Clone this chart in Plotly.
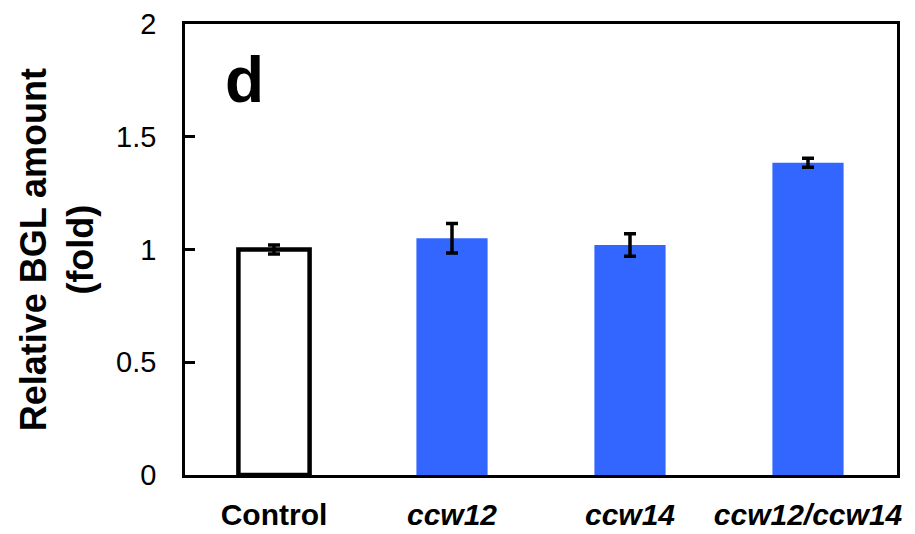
import plotly.graph_objects as go

categories = ["Control", "ccw12", "ccw14", "ccw12/ccw14"]
tick_labels = ["<b>Control</b>", "<b><i>ccw12</i></b>", "<b><i>ccw14</i></b>", "<b><i>ccw12/ccw14</i></b>"]
values = [1.0, 1.05, 1.02, 1.385]
errors = [0.02, 0.065, 0.05, 0.02]
fill_colors = ["white", "#3366FF", "#3366FF", "#3366FF"]
line_colors = ["black", "#3366FF", "#3366FF", "#3366FF"]
line_widths = [4.5, 0, 0, 0]

fig = go.Figure()
fig.add_trace(go.Bar(
    x=categories, y=values, width=0.4,
    marker=dict(color=fill_colors, line=dict(color=line_colors, width=line_widths)),
    error_y=dict(type="data", array=errors, color="black", thickness=3.5, width=6),
))

fig.add_annotation(x=0.083, y=0.876, xref="paper", yref="paper", text="<b>d</b>",
                   xanchor="center", yanchor="middle",
                   showarrow=False, font=dict(size=64, family="Liberation Sans", color="black"))

fig.add_annotation(x=-0.18, y=0.5, xref="paper", yref="paper",
                   text="<b>Relative BGL amount<br>(fold)</b>", textangle=-90,
                   xanchor="center", yanchor="middle",
                   showarrow=False, font=dict(size=36, family="Liberation Sans", color="black"))

fig.update_layout(
    width=915, height=534,
    margin=dict(l=185, r=18, t=24, b=59),
    plot_bgcolor="white", paper_bgcolor="white",
    showlegend=False,
    font=dict(family="Liberation Sans", color="black"),
    xaxis=dict(
        range=[-0.5, 3.5], tickmode="array", tickvals=categories, ticktext=tick_labels,
        tickfont=dict(size=30), showline=True, linecolor="black", linewidth=2.5, mirror=True,
        ticks="", showgrid=False, ticklabelstandoff=11, automargin=False,
    ),
    yaxis=dict(
        range=[0, 2], tickvals=[0, 0.5, 1, 1.5, 2], ticktext=["0", "0.5", "1", "1.5", "2"],
        tickfont=dict(size=29), showline=True, linecolor="black", linewidth=2.5, mirror=True,
        ticks="inside", ticklen=10, tickwidth=2.5, tickcolor="black", showgrid=False, zeroline=False,
        ticklabelstandoff=20, automargin=False,
    ),
)

fig.write_html("out.html")
